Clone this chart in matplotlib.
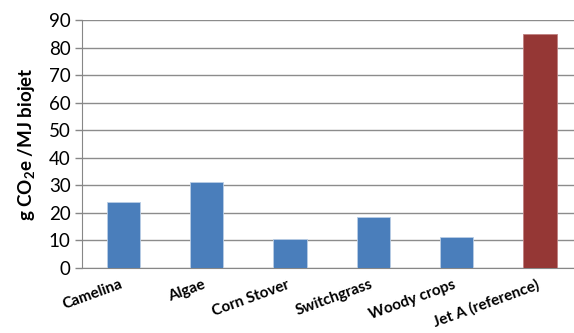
import matplotlib
matplotlib.use("Agg")
import matplotlib.pyplot as plt
from matplotlib.transforms import ScaledTranslation

categories = ["Camelina", "Algae", "Corn Stover", "Switchgrass", "Woody crops", "Jet A (reference)"]
values = [24, 31, 10.4, 18.3, 11.3, 85]
colors = ["#4A7EBB"] * 5 + ["#953735"]
edge_colors = ["#B9CDE5"] * 5 + ["#C08080"]
yticks = list(range(0, 91, 10))

plt.rcParams["font.family"] = ["Lato", "DejaVu Sans"]
plt.rcParams["mathtext.fontset"] = "custom"
plt.rcParams["mathtext.bf"] = "Lato:bold"
plt.rcParams["mathtext.rm"] = "Lato"

fig = plt.figure(figsize=(5.74, 3.33), dpi=100)
ax = fig.add_axes([0.1425, 0.196, 0.871, 0.744])

x = list(range(len(categories)))
ax.bar(x, values, width=0.4, color=colors, edgecolor=edge_colors, linewidth=0.6, zorder=3)

ax.set_xlim(-0.5, len(categories) - 0.5)
ax.set_ylim(0, 90)
ax.set_yticks(yticks)
ax.tick_params(axis="y", labelsize=13.5, length=5, color="#878787", width=1, pad=3)
ax.yaxis.grid(True, color="#8C8C8C", linewidth=1, zorder=0)
ax.set_axisbelow(True)

ax.set_xticks(x)
ax.set_xticklabels(categories, rotation=20, ha="right", rotation_mode="anchor",
                   fontsize=11, fontweight="bold")
ax.tick_params(axis="x", length=0, pad=7)
shift = ScaledTranslation(-4 / 100, 0, fig.dpi_scale_trans)
for lbl in ax.get_xticklabels():
    lbl.set_transform(lbl.get_transform() + shift)

for s in ["top", "right"]:
    ax.spines[s].set_visible(False)
ax.spines["left"].set_color("#878787")
ax.spines["bottom"].set_color("#878787")

ax.set_ylabel(r"g CO$_\mathbf{2}$e /MJ biojet", fontsize=13.5, fontweight="bold", labelpad=8)

fig.savefig("out.png", dpi=100)
